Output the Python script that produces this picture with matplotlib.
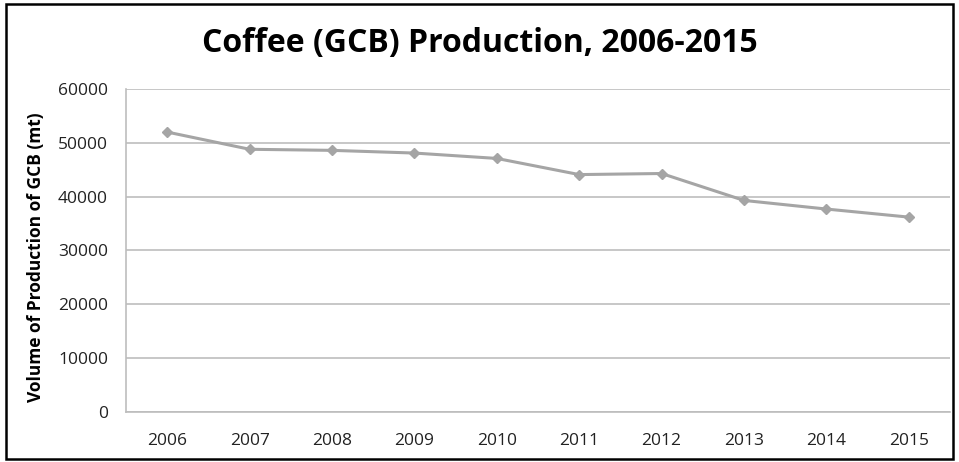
import numpy as np
import matplotlib
matplotlib.use("Agg")
from matplotlib import pyplot as plt
from matplotlib.patches import Rectangle

years = ['2006', '2007', '2008', '2009', '2010', '2011', '2012', '2013', '2014', '2015']
production = [52000, 48800, 48600, 48100, 47100, 44100, 44300, 39300, 37700, 36200]
yticks = [0, 10000, 20000, 30000, 40000, 50000, 60000]

plt.rcParams['font.family'] = ['Open Sans', 'DejaVu Sans']

fig = plt.figure(figsize=(9.59, 4.62), dpi=100)
ax = fig.add_axes([0.1314, 0.1082, 0.8592, 0.6992])

x = np.arange(len(years))
ax.plot(x, production, color='#A5A5A5', lw=2.2, marker='D', ms=5.5,
        mfc='#A5A5A5', mec='#A5A5A5', zorder=3)

ax.set_xlim(-0.5, len(years) - 0.5)
ax.set_ylim(0, 60000)
ax.set_yticks(yticks)
ax.set_xticks(x)
ax.set_xticklabels(years)
ax.yaxis.grid(True, color='#BDBDBD', lw=1.2)
ax.set_axisbelow(True)
ax.tick_params(length=0, labelsize=12.5, colors='#222222')
ax.tick_params(axis='y', pad=13)
ax.tick_params(axis='x', pad=15)
for s in ['top', 'right']:
    ax.spines[s].set_visible(False)
for s in ['left', 'bottom']:
    ax.spines[s].set_color('#BDBDBD')
    ax.spines[s].set_linewidth(1.2)

ax.set_ylabel('Volume of Production of GCB (mt)', fontsize=12.5, fontweight='bold')
ax.yaxis.set_label_coords(-0.098, 0.48)
fig.text(0.5, 0.905, 'Coffee (GCB) Production, 2006-2015', ha='center', va='center',
         fontsize=23, fontweight='bold')

fig.patches.append(Rectangle((0.006, 0.006), 0.988, 0.985, transform=fig.transFigure,
                             fill=False, ec='black', lw=1.8))

fig.savefig('out.png', dpi=100)
